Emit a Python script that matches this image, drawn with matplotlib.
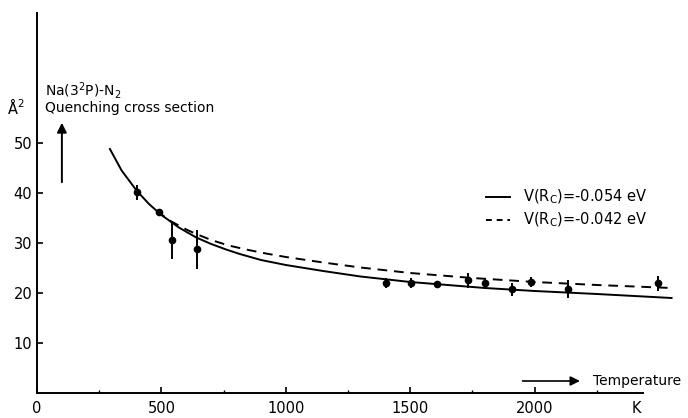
import numpy as np
import matplotlib.pyplot as plt

# measured points (temperature K, cross section A^2, error)
temp = [402, 492, 542, 642, 1402, 1502, 1606, 1731, 1800, 1908, 1984, 2133, 2494]
sigma = [40.2, 36.3, 30.6, 28.8, 22.0, 22.0, 21.8, 22.6, 22.0, 20.8, 22.2, 20.8, 22.0]
err = [1.5, 0.6, 3.8, 3.9, 1.0, 1.0, 0.5, 1.5, 1.0, 1.3, 1.0, 1.8, 1.5]

# calculated curves
solid_T = [293, 340, 400, 450, 500, 570, 640, 700, 760, 815, 900, 1000, 1150, 1300,
           1500, 1650, 1800, 2000, 2250, 2550]
solid_s = [48.8, 44.5, 40.5, 37.8, 35.6, 33.1, 31.1, 29.8, 28.7, 27.8, 26.6, 25.6, 24.4, 23.3,
           22.2, 21.6, 21.0, 20.4, 19.8, 19.0]
dash_T = [480, 540, 600, 640, 700, 770, 850, 920, 1000, 1150, 1300, 1500, 1750, 2000, 2250, 2550]
dash_s = [36.4, 34.3, 32.7, 31.8, 30.6, 29.5, 28.6, 27.9, 27.2, 26.1, 25.1, 24.0, 23.0, 22.2, 21.6, 21.0]

xticks = [0, 500, 1000, 1500, 2000]
yticks = [10, 20, 30, 40, 50]

plt.rcParams['font.family'] = 'DejaVu Sans'
fig = plt.figure(figsize=(6.88, 4.18), dpi=100)
ax = fig.add_axes([37/688, 25/418, 647/688, 380/418])
ax.set_xlim(0, 2600)
ax.set_ylim(0, 76)

ax.plot(solid_T, solid_s, color='black', lw=1.4)
ax.plot(dash_T, dash_s, color='black', lw=1.4, ls=(0, (5, 3.5)))
ax.errorbar(temp, sigma, yerr=err, fmt='o', color='black', ms=4.5, elinewidth=1.4, capsize=0)

for s in ['top', 'right']:
  ax.spines[s].set_visible(False)
ax.spines['bottom'].set_bounds(0, 2435)
ax.spines['left'].set_linewidth(1.4)
ax.spines['bottom'].set_linewidth(1.4)

ax.set_xticks(xticks)
ax.set_xticks([250, 750, 1250, 1750, 2250], minor=True)
ax.set_yticks(yticks)
ax.tick_params(direction='in', length=4, width=1.2, labelsize=10.5)
ax.tick_params(which='minor', direction='in', length=2, width=1)
ax.tick_params(axis='x', pad=6)
ax.text(2410, -3.1, 'K', ha='center', va='center', fontsize=10.5)

# annotations
ax.text(-85, 57.2, 'Å$^2$', ha='center', va='center', fontsize=10.5)
ax.text(32, 60.6, 'Na(3$^2$P)-N$_2$', ha='left', va='center', fontsize=10)
ax.text(32, 57.0, 'Quenching cross section', ha='left', va='center', fontsize=10)
ax.annotate('', xy=(100, 54.6), xytext=(100, 41.6),
            arrowprops=dict(arrowstyle='-|>', color='black', lw=1.4, mutation_scale=14))
ax.annotate('', xy=(2193, 2.4), xytext=(1940, 2.4),
            arrowprops=dict(arrowstyle='-|>', color='black', lw=1.2, mutation_scale=14))
ax.text(2233, 2.4, 'Temperature', ha='left', va='center', fontsize=10)

# legend drawn by hand
ax.plot([1803, 1900], [39.2, 39.2], color='black', lw=1.4)
ax.plot([1803, 1900], [34.6, 34.6], color='black', lw=1.4, ls=(0, (3, 2.5)))
ax.text(1952, 39.2, 'V(R$_\\mathrm{C}$)=-0.054 eV', ha='left', va='center', fontsize=10.5)
ax.text(1952, 34.6, 'V(R$_\\mathrm{C}$)=-0.042 eV', ha='left', va='center', fontsize=10.5)

fig.savefig('out.png', dpi=100)
